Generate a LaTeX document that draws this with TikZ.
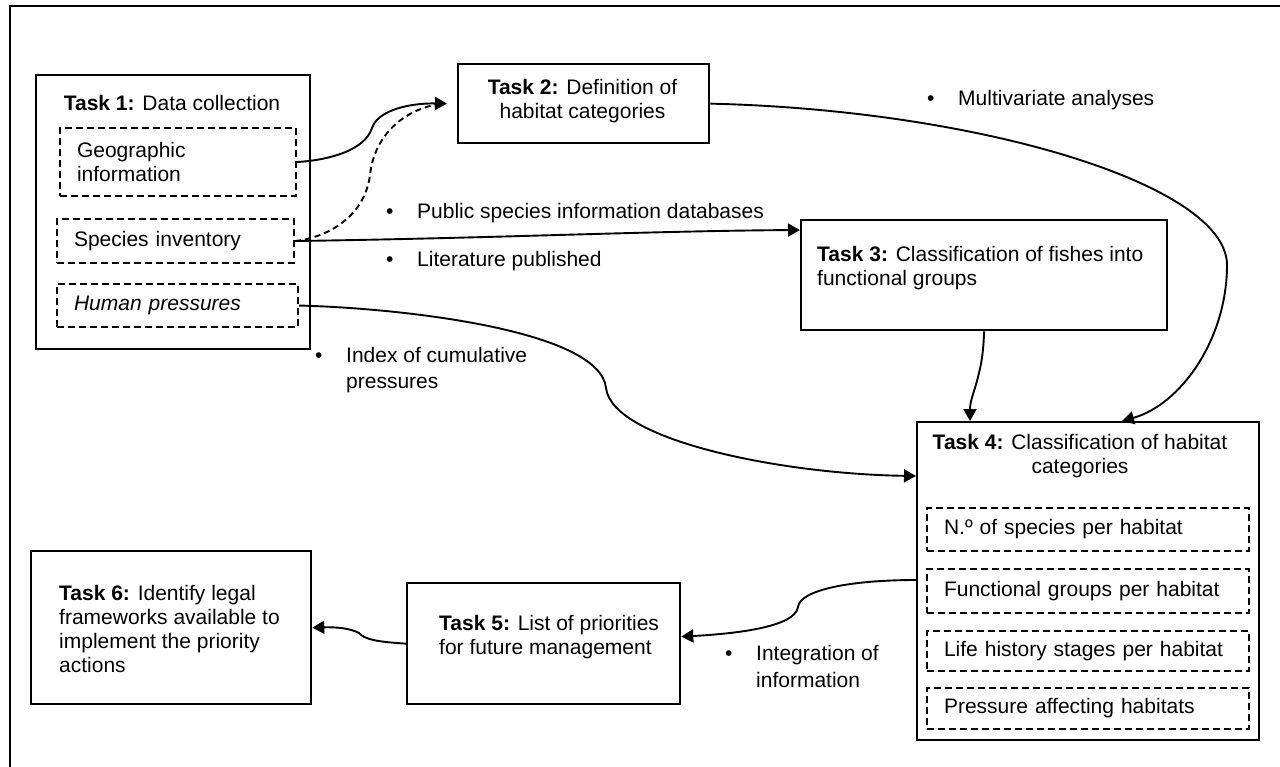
\documentclass[tikz,border=0pt]{standalone}
\usepackage{fontspec}
\setmainfont{Liberation Sans}
\usetikzlibrary{arrows.meta}
\begin{document}
\begin{tikzpicture}[x=1pt,y=-1pt,
  every node/.style={font=\fontsize{21}{24}\selectfont, inner sep=0pt},
  taskbox/.style={draw, line width=2.3pt, anchor=north west, inner sep=0pt},
  subbox/.style={draw, dash pattern=on 7pt off 4pt, line width=2.1pt, anchor=north west, inner xsep=17pt, inner ysep=0pt, align=left},
  txt/.style={align=left, anchor=west},
  conn/.style={line width=1.9pt},
  arr/.style={conn, -{Triangle[length=12pt,width=13pt]}},
  bl/.style={anchor=west, align=left}]
\useasboundingbox (0,0) rectangle (1280,767);
\draw[line width=2.3pt] (10,767) -- (10,6) -- (1280,6);

% Task 1
\node[taskbox, minimum width=274pt, minimum height=274pt] (t1) at (35,74) {};
\node (t1t) at (172,103) {\textbf{Task 1:} Data collection};
\node[subbox, text width=202pt, minimum height=68pt] (geo) at (59,127) {Geographic\\information};
\node[subbox, text width=203pt, minimum height=44pt] (spe) at (56,218) {Species inventory};
\node[subbox, text width=207pt, minimum height=43pt] (hum) at (56,283) {\textit{Human pressures}};

% Task 2
\node[taskbox, minimum width=251pt, minimum height=79pt] (t2) at (457,63) {};
\node[align=center] (t2t) at (582.5,101) {\textbf{Task 2:} Definition of\\habitat categories};

% Task 3
\node[taskbox, minimum width=366pt, minimum height=110pt] (t3) at (800,219) {};
\node[txt] (t3t) at (817,268.5) {\textbf{Task 3:} Classification of fishes into\\functional groups};

% Task 4
\node[taskbox, minimum width=342pt, minimum height=318pt] (t4) at (916,421) {};
\node[align=center] (t4t) at (1080,456.5) {\textbf{Task 4:} Classification of habitat\\categories};
\node[subbox, text width=288pt, minimum height=43pt] (s1) at (926,507) {N.º of species per habitat};
\node[subbox, text width=288pt, minimum height=44pt] (s2) at (926,568) {Functional groups per habitat};
\node[subbox, text width=288pt, minimum height=40pt] (s3) at (926,630) {Life history stages per habitat};
\node[subbox, text width=288pt, minimum height=41pt] (s4) at (926,687) {Pressure affecting habitats};

% Task 5
\node[taskbox, minimum width=273pt, minimum height=121pt] (t5) at (406,582) {};
\node[txt] (t5t) at (439,637.5) {\textbf{Task 5:} List of priorities\\for future management};

% Task 6
\node[taskbox, minimum width=280pt, minimum height=153pt] (t6) at (30,550) {};
\node[txt] (t6t) at (59,629) {\textbf{Task 6:} Identify legal\\frameworks available to\\implement the priority\\actions};

% labels
\node[bl] (lpub) at (386,213) {\makebox[31pt][l]{\textbullet}Public species information databases};
\node[bl] (llit) at (386,261) {\makebox[31pt][l]{\textbullet}Literature published};
\node[bl] (lmul) at (927,100) {\makebox[31pt][l]{\textbullet}Multivariate analyses};
\node[bl, font=\fontsize{21}{26}\selectfont] (lidx) at (315,370) {\makebox[31pt][l]{\textbullet}Index of cumulative\\\hspace*{31pt}pressures};
\node[bl, font=\fontsize{21}{27}\selectfont] (lint) at (725,666) {\makebox[31pt][l]{\textbullet}Integration of\\\hspace*{31pt}information};

% connectors
\draw[arr] (geo.east) .. controls (330,160) and (365,150) .. (372,128) .. controls (378,110) and (410,103) .. ([xshift=-10pt]t2.west);
\draw[conn, dash pattern=on 6pt off 4pt] (spe.east) .. controls (330,237) and (365,215) .. (370,175) .. controls (375,130) and (410,108) .. ([xshift=-16pt]t2.west);
\draw[arr] (spe.east) .. controls (500,238) and (650,231) .. ([yshift=-11pt]t3.north west);
\draw[arr] (t2.east) .. controls (980,110) and (1227,185) .. (1227,265) .. controls (1227,340) and (1180,405) .. ([xshift=206pt]t4.north west);
\draw[arr] (t3.south) .. controls (983,360) and (980,368) .. (978,377) .. controls (975,390) and (970,400) .. ([xshift=54pt]t4.north west);
\draw[arr] (hum.east) .. controls (400,308) and (600,330) .. (606,388) .. controls (612,440) and (780,474) .. ([yshift=-55pt]t4.north west);
\draw[arr] ([yshift=-159pt]t4.north west) .. controls (850,580) and (800,590) .. (798,607) .. controls (795,628) and (730,634) .. ([yshift=7pt]t5.east);
\draw[arr] (t5.west) .. controls (380,642) and (365,640) .. (359,633) .. controls (350,628) and (335,627) .. (t6.east);
\end{tikzpicture}
\end{document}
